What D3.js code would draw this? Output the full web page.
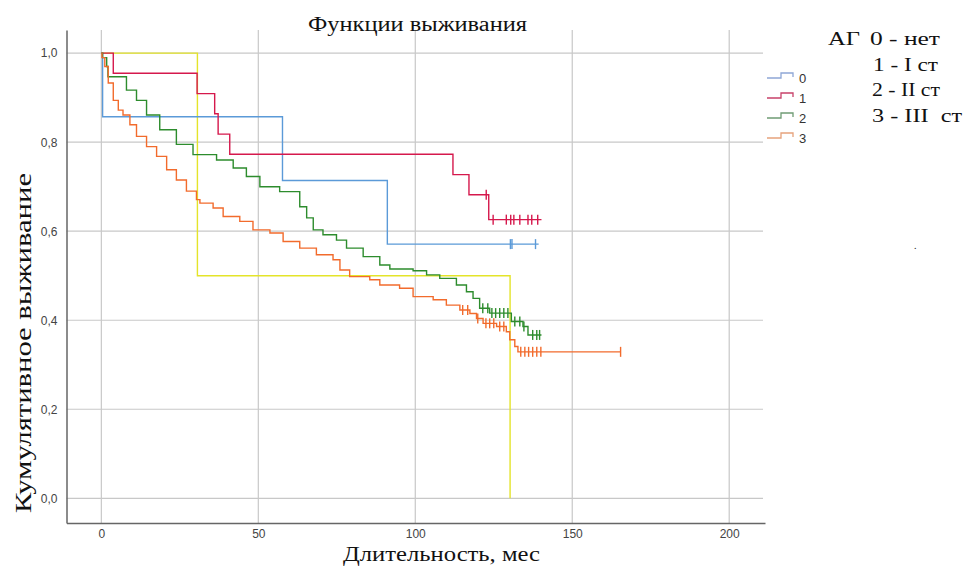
<!DOCTYPE html>
<html>
<head>
<meta charset="utf-8">
<script src="https://cdn.jsdelivr.net/npm/d3@7"></script>
<style>
  body { margin: 0; background: #fff; }
  .tick text { font-family: "Liberation Sans", Arial, sans-serif; font-size: 12px; fill: #444; }
  .serif { font-family: "Liberation Serif", "Times New Roman", serif; fill: #111; }
</style>
</head>
<body>
<div class="chart"></div>
<script>

// groups
var groupNames = ["0", "1", "2", "3"];
var xTicks = [0, 50, 100, 150, 200];
var yTicks = [0, 0.2, 0.4, 0.6, 0.8, 1.0];

// group 0 (blue)
var g0Times = [0, 0.4, 57.7, 91.1];
var g0Surv  = [1, 0.857, 0.714, 0.571];
var g0End = 139.3;
var g0Censor = [130.3, 130.8, 138.3];

// group 1 (red)
var g1Times = [0, 3.8, 30.5, 36.1, 37.2, 40.9, 112.0, 117.1, 123.4];
var g1Surv  = [1, 0.955, 0.909, 0.864, 0.818, 0.773, 0.727, 0.682, 0.626];
var g1End = 140.2;
var g1Censor = [122.6, 124.8, 129.0, 130.4, 131.4, 133.3, 135.9, 137.1, 139.0];

// group 2 (green)
var g2Times = [0, 0.4, 1.7, 2.1, 8.0, 11.2, 14.4, 18.6, 23.9, 29.2, 36.7, 42.0, 46.2, 50.5,
  56.8, 63.2, 65.4, 67.5, 70.6, 74.9, 78.1, 83.4, 88.7, 91.9, 99.3, 103.6, 107.8, 113.1,
  116.3, 118.4, 120.5, 123.7, 130.6, 134.3, 135.9];
var g2Surv  = [1, 0.99, 0.97, 0.947, 0.917, 0.894, 0.861, 0.828, 0.795, 0.772, 0.760, 0.742, 0.723, 0.700,
  0.689, 0.655, 0.630, 0.603, 0.592, 0.580, 0.562, 0.543, 0.524, 0.515, 0.511, 0.502, 0.494, 0.479,
  0.464, 0.449, 0.427, 0.416, 0.397, 0.386, 0.367];
var g2End = 140.2;
var g2Censor = [121.5, 123.1, 124.4, 125.6, 126.9, 128.2, 129.5, 131.7, 133.3, 134.6, 137.4, 138.7, 139.6];

// group 3 (orange)
var g3Times = [0, 0.2, 1.1, 2.2, 3.8, 5.4, 6.9, 9.1, 11.2, 14.4, 17.6, 20.8, 23.9, 27.1, 30.3, 31.4,
  35.6, 38.8, 44.1, 48.3, 53.7, 57.9, 63.2, 68.5, 73.8, 76.0, 79.1, 85.5, 88.7, 95.0, 99.3,
  105.7, 109.9, 114.2, 117.4, 119.5, 121.6, 125.9, 129.0, 130.1, 131.7, 132.7];
var g3Surv  = [1, 0.99, 0.97, 0.933, 0.894, 0.872, 0.861, 0.839, 0.813, 0.790, 0.768, 0.738, 0.715, 0.690, 0.671, 0.663,
  0.652, 0.633, 0.622, 0.603, 0.596, 0.577, 0.562, 0.547, 0.536, 0.513, 0.498, 0.491, 0.479, 0.472, 0.453,
  0.446, 0.434, 0.423, 0.415, 0.404, 0.393, 0.386, 0.374, 0.356, 0.341, 0.329];
var g3End = 165.5;
var g3Censor = [115.1, 116.7, 119.9, 122.5, 123.7, 125.0, 126.9, 128.2, 133.6, 134.9, 136.1, 137.4, 138.7, 140.0, 165.4];

// extra group not in legend (yellow)
var g4Times = [0, 30.6, 130.2];
var g4Surv  = [1, 0.5, 0];
var g4End = 130.2;

// legend notes
var noteLines = ["0 - нет", "1 - I ст", "2 - II ст", "3 - III  ст"];

var width = 964, height = 567;
var plot = { left: 66.5, right: 765, top: 30, bottom: 523 };

var svg = d3.select(".chart").append("svg")
  .attr("width", width)
  .attr("height", height);

var x = d3.scaleLinear().domain([-11.1, 211.4]).range([plot.left, plot.right]);
var y = d3.scaleLinear().domain([-0.0555, 1.052]).range([plot.bottom, plot.top]);

// grid
svg.append("g").selectAll("line.vg")
  .data(xTicks).enter().append("line")
    .attr("x1", function(d){ return x(d); })
    .attr("x2", function(d){ return x(d); })
    .attr("y1", plot.top).attr("y2", plot.bottom)
    .attr("stroke", "#c8c8c8").attr("stroke-width", 1.2);

svg.append("g").selectAll("line.hg")
  .data(yTicks).enter().append("line")
    .attr("x1", plot.left).attr("x2", plot.right - 2)
    .attr("y1", function(d){ return y(d); })
    .attr("y2", function(d){ return y(d); })
    .attr("stroke", "#c8c8c8").attr("stroke-width", 1.2);

// axes
var xAxis = d3.axisBottom(x).tickValues(xTicks).tickSize(0).tickPadding(6)
  .tickFormat(d3.format("d"));
var yAxis = d3.axisLeft(y).tickValues(yTicks).tickSize(0).tickPadding(9)
  .tickFormat(function(d){ return d3.format(".1f")(d).replace(".", ","); });

var gx = svg.append("g").attr("transform", "translate(0," + plot.bottom + ")").call(xAxis);
var gy = svg.append("g").attr("transform", "translate(" + plot.left + ",0)").call(yAxis);
gx.select(".domain").attr("stroke", "#666").attr("stroke-width", 1.5);
gy.select(".domain").attr("stroke", "#666").attr("stroke-width", 1.5);

// curves
var groups = [
  { times: g4Times, surv: g4Surv, end: g4End, censor: [], color: "#e4e42a" },
  { times: g0Times, surv: g0Surv, end: g0End, censor: g0Censor, color: "#5b9ad8" },
  { times: g1Times, surv: g1Surv, end: g1End, censor: g1Censor, color: "#d5184c" },
  { times: g2Times, surv: g2Surv, end: g2End, censor: g2Censor, color: "#2d8c2d" },
  { times: g3Times, surv: g3Surv, end: g3End, censor: g3Censor, color: "#f26b2c" }
];

function stepValue(g, t){
  var v = g.surv[0];
  for (var i = 0; i < g.times.length; i++) {
    if (g.times[i] <= t) v = g.surv[i];
  }
  return v;
}

var line = d3.line()
  .x(function(d){ return x(d[0]); })
  .y(function(d){ return y(d[1]); })
  .curve(d3.curveStepAfter);

groups.forEach(function(g){
  var pts = g.times.map(function(t, i){ return [t, g.surv[i]]; });
  pts.push([g.end, g.surv[g.surv.length - 1]]);

  svg.append("path")
    .datum(pts)
    .attr("d", line)
    .attr("fill", "none")
    .attr("stroke", g.color)
    .attr("stroke-width", 1.4);

  svg.append("g").selectAll("line")
    .data(g.censor).enter().append("line")
      .attr("x1", function(d){ return x(d); })
      .attr("x2", function(d){ return x(d); })
      .attr("y1", function(d){ return y(stepValue(g, d)) - 5; })
      .attr("y2", function(d){ return y(stepValue(g, d)) + 5; })
      .attr("stroke", g.color)
      .attr("stroke-width", 1.4);
});

// legend
var legendColors = ["#8ea7d6", "#c8426a", "#6f9c74", "#e6a27c"];
var leg = svg.append("g").attr("transform", "translate(767,78)");
groupNames.forEach(function(name, i){
  var row = leg.append("g").attr("transform", "translate(0," + (i * 20) + ")");
  row.append("path")
    .attr("d", "M0,0 H14 V-5 H26 V-1")
    .attr("fill", "none")
    .attr("stroke", legendColors[i])
    .attr("stroke-width", 1.3);
  row.append("text")
    .attr("x", 32).attr("y", 5)
    .attr("font-family", "Liberation Sans, Arial, sans-serif")
    .attr("font-size", 13)
    .attr("fill", "#333")
    .text(name);
});

// titles
svg.append("text").attr("class", "serif")
  .attr("x", 308).attr("y", 31)
  .attr("font-size", 20)
  .attr("textLength", 219)
  .attr("lengthAdjust", "spacingAndGlyphs")
  .text("Функции выживания");

svg.append("text").attr("class", "serif")
  .attr("x", 343).attr("y", 561)
  .attr("font-size", 20)
  .attr("textLength", 197)
  .attr("lengthAdjust", "spacingAndGlyphs")
  .text("Длительность, мес");

svg.append("text").attr("class", "serif")
  .attr("transform", "translate(31,513) rotate(-90)")
  .attr("font-size", 23)
  .attr("textLength", 340)
  .attr("lengthAdjust", "spacingAndGlyphs")
  .text("Кумулятивное выживание");

// note at right
svg.append("text").attr("class", "serif")
  .attr("x", 828).attr("y", 45)
  .attr("font-size", 19)
  .attr("textLength", 32)
  .attr("lengthAdjust", "spacingAndGlyphs")
  .text("АГ");

var noteX = [870, 873, 872, 872];
var noteLen = [70, 65, 68, 90];
svg.append("g").selectAll("text")
  .data(noteLines).enter().append("text")
    .attr("class", "serif")
    .attr("x", function(d, i){ return noteX[i]; })
    .attr("y", function(d, i){ return 45 + i * 25.7; })
    .attr("font-size", 19)
    .attr("textLength", function(d, i){ return noteLen[i]; })
    .attr("lengthAdjust", "spacingAndGlyphs")
    .style("white-space", "pre")
    .text(function(d){ return d; });

svg.append("text").attr("class", "serif")
  .attr("x", 914).attr("y", 249)
  .attr("font-size", 10)
  .attr("fill", "#777")
  .text(".");

</script>
</body>
</html>
